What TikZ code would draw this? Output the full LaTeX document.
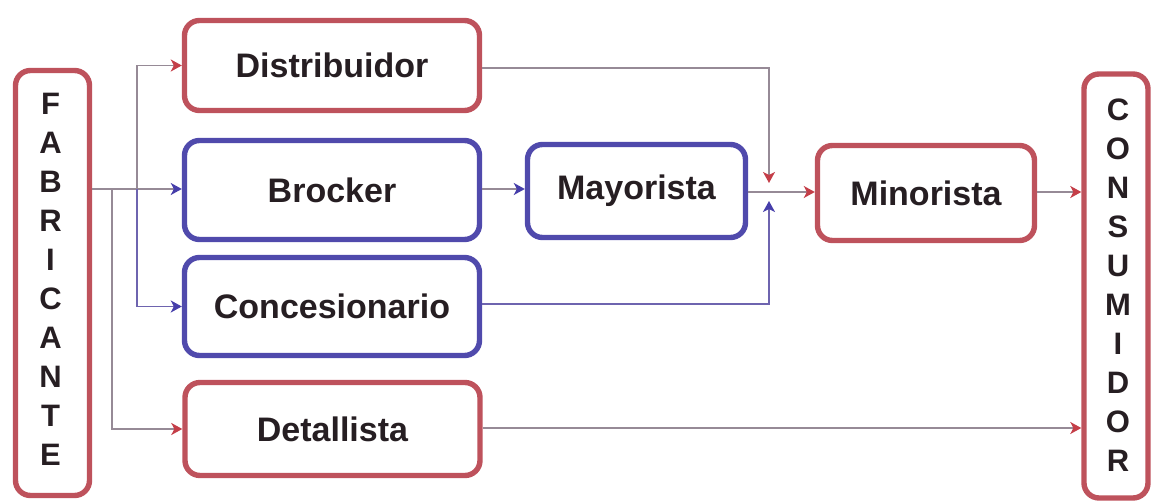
\documentclass[tikz,border=0pt]{standalone}
\usepackage{fontspec}
\setmainfont{Liberation Sans}
\usetikzlibrary{arrows.meta}

\definecolor{boxred}{RGB}{190,82,92}
\definecolor{boxblue}{RGB}{80,74,172}
\definecolor{tipred}{RGB}{196,62,72}
\definecolor{tipblue}{RGB}{70,62,170}
\definecolor{wiregray}{RGB}{150,138,150}
\definecolor{wireblue}{RGB}{110,100,175}
\definecolor{ink}{RGB}{38,30,34}

\tikzset{
  box/.style={draw, line width=5.4pt, rounded corners=15pt, fill=white,
    inner sep=0pt, text=ink, font=\fontsize{34}{40}\selectfont\bfseries},
  redbox/.style={box, draw=boxred},
  bluebox/.style={box, draw=boxblue},
  column/.style={align=center, text=ink, inner sep=0pt,
    font=\fontsize{31}{39}\selectfont\bfseries},
  wire/.style={draw=wiregray, line width=1.7pt},
  bluewire/.style={draw=wireblue, line width=1.7pt},
  redtip/.style={-{Stealth[length=11pt,width=12pt,inset=3pt,color=tipred]}},
  bluetip/.style={-{Stealth[length=11pt,width=12pt,inset=3pt,color=tipblue]}},
}

\begin{document}
\begin{tikzpicture}[x=1pt,y=-1pt]
  \useasboundingbox (0,0) rectangle (1152,502);

  % end points of the channel
  \node[redbox, minimum width=74pt, minimum height=425pt] (fab) at (52.5,283) {};
  \node[column] (fabtxt) at ([xshift=-2pt,yshift=4pt]fab.center)
    {F\\A\\B\\R\\I\\C\\A\\N\\T\\E};
  \node[redbox, minimum width=64pt, minimum height=424pt] (cons) at (1116,286) {};
  \node[column] (constxt) at ([xshift=2pt,yshift=1pt]cons.center)
    {C\\O\\N\\S\\U\\M\\I\\D\\O\\R};

  % intermediaries
  \node[redbox,  minimum width=295pt, minimum height=90pt] (dist) at (332,65.5) {Distribuidor};
  \node[bluebox, minimum width=295pt, minimum height=99pt] (brok) at (332,190) {Brocker};
  \node[bluebox, minimum width=295pt, minimum height=98pt] (conc) at (332,306.5) {Concesionario};
  \node[redbox,  minimum width=295pt, minimum height=93pt] (deta) at (332.5,429) {Detallista};
  \node[bluebox, minimum width=218pt, minimum height=93pt] (mayo) at (636.5,191) {Mayorista};
  \node[redbox,  minimum width=217pt, minimum height=95pt] (mino) at (926,193) {Minorista};

  % branch points and the meeting point before Minorista
  \coordinate (fout) at (fab.east |- 0,189);
  \coordinate (b1) at (137,189);
  \coordinate (b2) at (112,189);
  \coordinate (hub) at (769,192);

  % outgoing flows from the manufacturer
  \draw[wire, bluetip] (fout) -- (brok.west |- fout);
  \draw[wire, redtip] (b1) |- (dist.west);
  \draw[bluewire, bluetip] (b1) |- (conc.west);
  \draw[wire, redtip] (b2) |- (deta.west);

  % middle of the chain
  \draw[wire, bluetip] (brok.east |- 0,189) -- (mayo.west |- 0,189);
  \draw[wire, redtip, shorten >=9pt] ([yshift=-2.5pt]dist.east) -| (hub);
  \draw[bluewire, bluetip, shorten >=9pt] ([yshift=2.5pt]conc.east) -| (hub);
  \draw[wire, redtip] (mayo.east |- hub) -- (mino.west |- hub);

  % into the consumer
  \draw[wire, redtip] (mino.east |- hub) -- (cons.west |- hub);
  \draw[wire, redtip] (deta.east |- 0,428) -- (cons.west |- 0,428);
\end{tikzpicture}
\end{document}
